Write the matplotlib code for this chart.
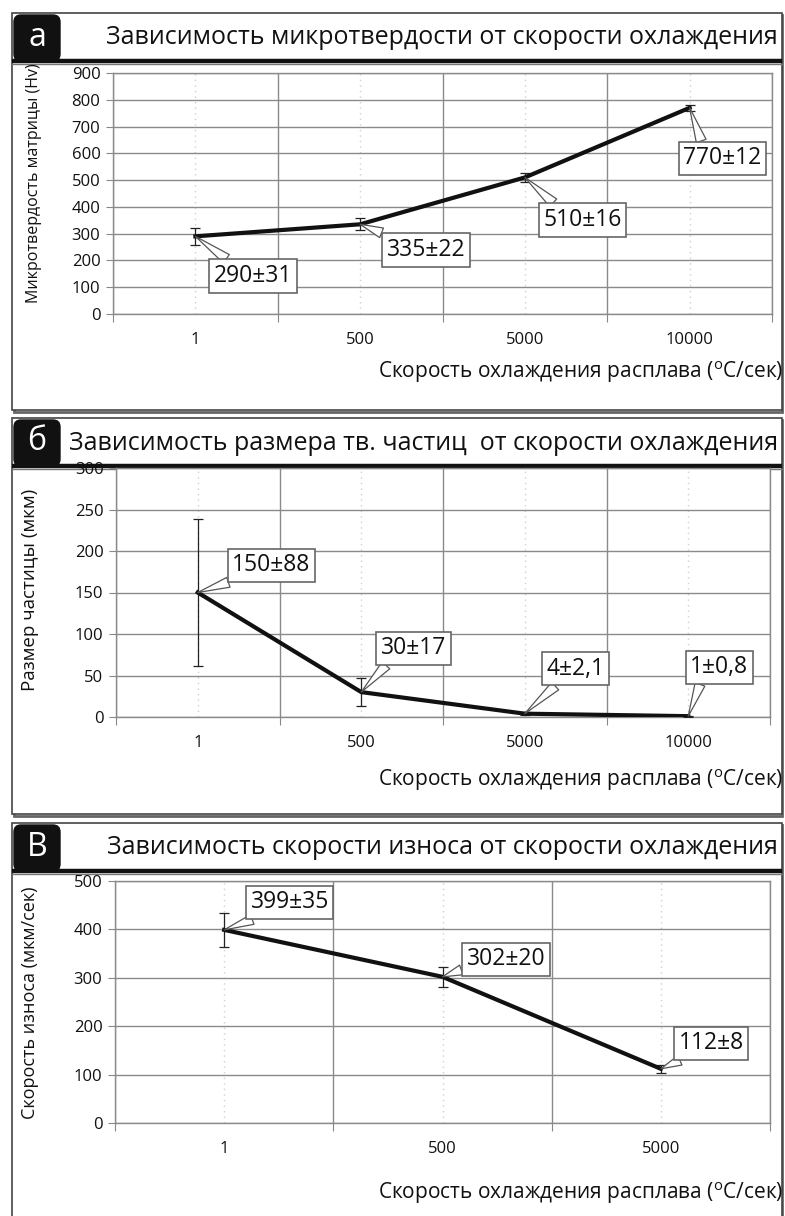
import matplotlib
matplotlib.use("Agg")
import matplotlib.pyplot as plt
from matplotlib.patches import Rectangle, FancyBboxPatch

plt.rcParams['font.family'] = ['Open Sans', 'DejaVu Sans']
plt.rcParams['mathtext.fontset'] = 'custom'
plt.rcParams['mathtext.rm'] = 'Open Sans'

# ---------------- data ----------------
cats_a = ["1", "500", "5000", "10000"]
vals_a = [290, 335, 510, 770]
errs_a = [31, 22, 16, 12]
labels_a = ["290±31", "335±22", "510±16", "770±12"]
lpos_a = [(0.35, 142), (1.40, 239), (2.35, 351), (3.20, 582)]

cats_b = ["1", "500", "5000", "10000"]
vals_b = [150, 30, 4, 1]
errs_b = [88, 17, 2.1, 0.8]
labels_b = ["150±88", "30±17", "4±2,1", "1±0,8"]
lpos_b = [(0.45, 183), (1.32, 83), (2.31, 58), (3.19, 60)]

cats_c = ["1", "500", "5000"]
vals_c = [399, 302, 112]
errs_c = [35, 20, 8]
labels_c = ["399±35", "302±20", "112±8"]
lpos_c = [(0.30, 456), (1.29, 338), (2.23, 165)]

W, H = 785, 1216
fig = plt.figure(figsize=(W / 100, H / 100), dpi=100)

# background axes in pixel coordinates
bg = fig.add_axes([0, 0, 1, 1], zorder=0)
bg.set_xlim(0, W)
bg.set_ylim(H, 0)
bg.axis("off")

def frame(top, bottom, letter, title, title_x, ylab, ylab_x, ylab_fs, xlab_y):
    # shadow
    bg.add_patch(Rectangle((14, top + 2), 770 - 2, bottom - top, fc="none",
                           ec="#666666", lw=2.0))
    bg.add_patch(Rectangle((12, top), 770, bottom - top, fc="white",
                           ec="#444444", lw=1.2))
    # title bar bottom thick line
    bg.plot([12, 782], [top + 48, top + 48], color="#111111", lw=3.2,
            solid_capstyle="butt")
    bg.plot([12, 782], [top + 50.5, top + 50.5], color="#777777", lw=1.0)
    # tab
    bg.add_patch(FancyBboxPatch((14, top + 2), 46, 46,
                                boxstyle="round,pad=0,rounding_size=7",
                                fc="#111111", ec="#111111", lw=1))
    bg.text(37, top + 24, letter, color="white", fontsize=23,
            ha="center", va="center")
    bg.text(title_x, top + 25, title, fontsize=18, ha="right", va="center",
            color="#111111")
    bg.text(ylab_x, ylab[1], ylab[0], rotation=90, fontsize=ylab_fs,
            ha="center", va="center", color="#111111")
    bg.text(783, xlab_y, "Скорость охлаждения расплава ($^{\\mathregular{o}}$C/сек)",
            fontsize=15, ha="right", va="center", color="#111111")


def panel(box, cats, vals, errs, labels, lpos, ymax, ystep, relpos_list):
    l, r, t, b = box
    ax = fig.add_axes([l / W, 1 - b / H, (r - l) / W, (b - t) / H], zorder=2)
    n = len(cats)
    xs = list(range(n))
    ax.set_xlim(-0.5, n - 0.5)
    ax.set_ylim(0, ymax)
    ax.set_yticks(list(range(0, ymax + 1, ystep)))
    ax.set_xticks([i - 0.5 for i in range(n + 1)])
    ax.set_xticklabels([])
    ax.set_xticks(xs, minor=True)
    ax.set_xticklabels(cats, minor=True)
    ax.tick_params(axis="x", which="major", length=6, color="#888888",
                   direction="out")
    ax.tick_params(axis="x", which="minor", length=0, pad=13, labelsize=12,
                   labelcolor="#111111")
    ax.tick_params(axis="y", length=5, color="#888888", pad=4, labelsize=12,
                   labelcolor="#111111")
    ax.grid(True, which="major", axis="both", color="#8a8a8a", lw=1.0)
    ax.grid(True, which="minor", axis="x", color="#d0d0d0", lw=1.0,
            ls=(0, (1, 3)))
    for s in ax.spines.values():
        s.set_color("#8a8a8a")
        s.set_linewidth(1.0)
    ax.set_axisbelow(True)
    ax.errorbar(xs, vals, yerr=errs, color="#111111", lw=3.0, ecolor="#222222",
                elinewidth=0.9, capsize=3.5, capthick=0.9, zorder=3)
    for x, v, lab, (lx, ly), rp in zip(xs, vals, labels, lpos, relpos_list):
        ax.annotate(lab, xy=(x, v), xytext=(lx, ly), fontsize=16.5,
                    ha="center", va="center", color="#111111",
                    annotation_clip=False, zorder=5,
                    bbox=dict(boxstyle="square,pad=0.2", fc="white",
                              ec="#666666", lw=1.2),
                    arrowprops=dict(arrowstyle="wedge,tail_width=0.45,shrink_factor=0.5",
                                    fc="white", ec="#555555", lw=0.9,
                                    relpos=rp, shrinkA=0, shrinkB=0))
    return ax

# panel a
frame(13, 410, "а", "Зависимость микротвердости от скорости охлаждения", 778,
      ("Микротвердость матрицы (Hv)", 183), 34, 11.5, 372)
panel((113, 772, 73, 314), cats_a, vals_a, errs_a, labels_a, lpos_a, 900, 100,
      [(0.25, 1), (0.1, 1), (0.2, 1), (0.25, 1)])

# panel б
frame(418, 814, "б", "Зависимость размера тв. частиц  от скорости охлаждения", 778,
      ("Размер частицы (мкм)", 590), 30, 13.5, 780)
panel((116, 770, 468, 717), cats_b, vals_b, errs_b, labels_b, lpos_b, 300, 50,
      [(0.15, 0), (0.15, 0), (0.25, 0), (0.2, 0)])

# panel в
frame(823, 1230, "В", "Зависимость скорости износа от скорости охлаждения", 778,
      ("Скорость износа (мкм/сек)", 1003), 30, 13, 1193)
panel((115, 770, 881, 1123), cats_c, vals_c, errs_c, labels_c, lpos_c, 500, 100,
      [(0.2, 0), (0.05, 0.2), (0.2, 0)])

fig.savefig("out.png", dpi=100)
